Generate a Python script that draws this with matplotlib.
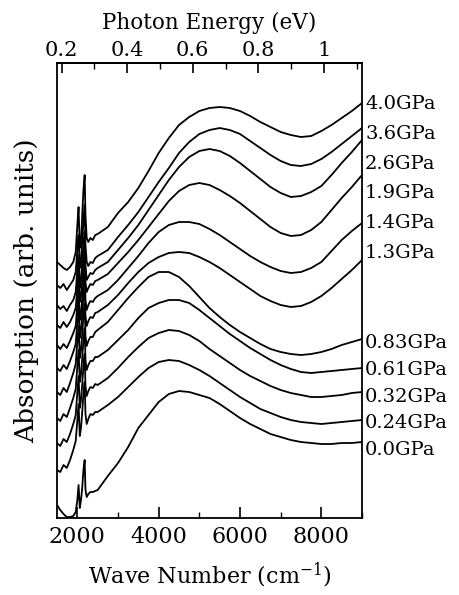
import matplotlib
matplotlib.use('Agg')
import matplotlib.pyplot as plt
from matplotlib import transforms
from matplotlib.ticker import MultipleLocator

plt.rcParams['font.family'] = ['DejaVu Serif']
plt.rcParams['mathtext.fontset'] = 'dejavuserif'

# wave numbers (cm^-1)
wn_low = [1500, 1580, 1660, 1740, 1820, 1900, 1960, 2000, 2030, 2060,
          2090, 2120, 2150, 2180, 2200, 2230, 2270, 2320, 2380, 2440]
wn_high = [2500, 2750, 3000, 3250, 3500, 3750, 4000, 4250, 4500, 4750,
           5000, 5250, 5500, 5750, 6000, 6250, 6500, 6750, 7000, 7250,
           7500, 7750, 8000, 8250, 8500, 8750, 9000]

pressures = ['4.0GPa', '3.6GPa', '2.6GPa', '1.9GPa', '1.4GPa', '1.3GPa',
             '0.83GPa', '0.61GPa', '0.32GPa', '0.24GPa', '0.0GPa']

# absorption (arb. units, offset traces)
a40_low = [256, 253, 250, 248, 251, 256, 266, 293, 311, 270, 275, 303, 328, 343, 303, 280, 276, 280, 278, 283]
a40_high = [284, 291, 305, 316, 330, 347, 365, 380, 393, 401, 407, 410, 411, 410, 407, 402, 396, 391, 386, 383, 381, 382, 387, 393, 400, 407, 415]
a36_low = [233, 230, 234, 228, 233, 238, 246, 268, 283, 250, 256, 278, 296, 313, 273, 256, 252, 256, 255, 260]
a36_high = [262, 268, 281, 293, 306, 321, 336, 350, 365, 376, 384, 388, 390, 388, 384, 377, 370, 363, 357, 353, 352, 354, 359, 366, 374, 382, 390]
a26_low = [213, 209, 212, 207, 213, 218, 226, 248, 263, 230, 238, 256, 273, 286, 253, 238, 241, 245, 244, 248]
a26_high = [250, 256, 268, 280, 293, 308, 323, 338, 351, 361, 367, 369, 367, 362, 355, 347, 339, 331, 325, 321, 322, 326, 332, 343, 355, 366, 378]
a19_low = [193, 190, 196, 191, 196, 203, 210, 230, 246, 216, 222, 238, 256, 268, 236, 226, 230, 234, 233, 237]
a19_high = [238, 244, 255, 266, 278, 291, 304, 317, 327, 333, 335, 333, 328, 322, 315, 307, 299, 291, 285, 282, 283, 288, 296, 308, 320, 331, 343]
a14_low = [173, 169, 174, 170, 177, 185, 192, 213, 228, 198, 205, 220, 238, 250, 218, 208, 213, 217, 216, 220]
a14_high = [222, 228, 238, 250, 262, 275, 286, 293, 296, 296, 294, 289, 283, 276, 269, 262, 256, 251, 247, 245, 246, 250, 256, 267, 278, 287, 295]
a13_low = [150, 147, 153, 149, 157, 166, 174, 196, 212, 180, 188, 204, 222, 234, 202, 192, 197, 201, 200, 205]
a13_high = [206, 213, 223, 235, 246, 255, 261, 265, 266, 265, 261, 256, 250, 243, 236, 229, 222, 217, 213, 211, 212, 216, 222, 230, 239, 248, 258]
a083_low = [126, 123, 130, 126, 135, 145, 154, 176, 192, 160, 168, 184, 202, 214, 182, 172, 177, 181, 181, 186]
a083_high = [188, 196, 208, 220, 231, 241, 246, 246, 241, 232, 221, 210, 201, 193, 186, 180, 174, 169, 166, 164, 163, 164, 166, 169, 173, 176, 179]
a061_low = [100, 97, 104, 101, 110, 120, 129, 152, 168, 136, 144, 160, 178, 190, 158, 148, 153, 157, 157, 161]
a061_high = [161, 168, 178, 188, 200, 210, 215, 218, 218, 215, 208, 200, 192, 184, 177, 170, 164, 158, 153, 149, 146, 145, 146, 147, 148, 149, 150]
a032_low = [75, 72, 79, 76, 84, 94, 103, 126, 142, 110, 118, 134, 152, 164, 132, 122, 127, 131, 130, 134]
a032_high = [133, 140, 150, 161, 171, 180, 185, 188, 187, 183, 177, 169, 162, 155, 148, 142, 137, 132, 128, 125, 123, 121, 121, 122, 123, 125, 126]
a024_low = [48, 46, 53, 50, 58, 68, 77, 98, 114, 82, 90, 106, 124, 136, 104, 94, 99, 104, 103, 106]
a024_high = [106, 113, 121, 131, 141, 150, 156, 158, 157, 153, 148, 142, 135, 128, 121, 115, 109, 105, 101, 98, 96, 95, 94, 95, 96, 97, 98]
a00_low = [13, 8, 4, 1, 1, 2, 6, 18, 33, 10, 18, 30, 48, 58, 28, 21, 24, 26, 26, 27]
a00_high = [28, 42, 55, 71, 90, 103, 116, 124, 127, 126, 123, 120, 114, 107, 100, 94, 89, 84, 81, 78, 76, 75, 74, 74, 75, 75, 76]

traces_low = [a40_low, a36_low, a26_low, a19_low, a14_low, a13_low,
              a083_low, a061_low, a032_low, a024_low, a00_low]
traces_high = [a40_high, a36_high, a26_high, a19_high, a14_high, a13_high,
               a083_high, a061_high, a032_high, a024_high, a00_high]

# label layout (vertical positions of the pressure labels, data units)
label_pos = [414, 384, 354, 325, 295, 265, 175, 148, 121, 95, 68]

fig = plt.figure(figsize=(4.59, 5.95), dpi=100)
ax = fig.add_axes([0.1242, 0.1294, 0.6645, 0.7647])

for lo, hi in zip(traces_low, traces_high):
    ax.plot(wn_low + wn_high, lo + hi, color='black', lw=1.3,
            solid_joinstyle='round')

ax.set_xlim(1500, 9000)
ax.set_ylim(0, 455)
ax.xaxis.set_major_locator(MultipleLocator(2000))
ax.xaxis.set_minor_locator(MultipleLocator(1000))
ax.tick_params(axis='x', which='major', direction='in', length=8, width=1.2,
               labelsize=16, pad=6, top=False)
ax.tick_params(axis='x', which='minor', direction='in', length=4, width=1.0, top=False)
ax.set_yticks([])
for s in ax.spines.values():
    s.set_linewidth(1.3)

ax.set_xlabel('Wave Number (cm$^{-1}$)', fontsize=16, labelpad=9)
ax.set_ylabel('Absorption (arb. units)', fontsize=19, labelpad=13)


def wn2ev(w):
    return w / 8065.54


def ev2wn(e):
    return e * 8065.54


sec = ax.secondary_xaxis('top', functions=(wn2ev, ev2wn))
sec.set_xticks([0.2, 0.4, 0.6, 0.8, 1.0])
sec.set_xticklabels(['0.2', '0.4', '0.6', '0.8', '1'])
sec.xaxis.set_minor_locator(MultipleLocator(0.1))
sec.tick_params(which='major', direction='in', length=7, width=1.2, labelsize=15, pad=2)
sec.tick_params(which='minor', direction='in', length=4, width=1.0)
sec.set_xlabel('Photon Energy (eV)', fontsize=15.5, labelpad=9)
sec.spines['top'].set_linewidth(1.3)

trans = transforms.blended_transform_factory(ax.transAxes, ax.transData)
for name, yp in zip(pressures, label_pos):
    ax.text(1.01, yp, name, transform=trans, fontsize=14, va='center', ha='left')

fig.savefig('out.png', dpi=100)
